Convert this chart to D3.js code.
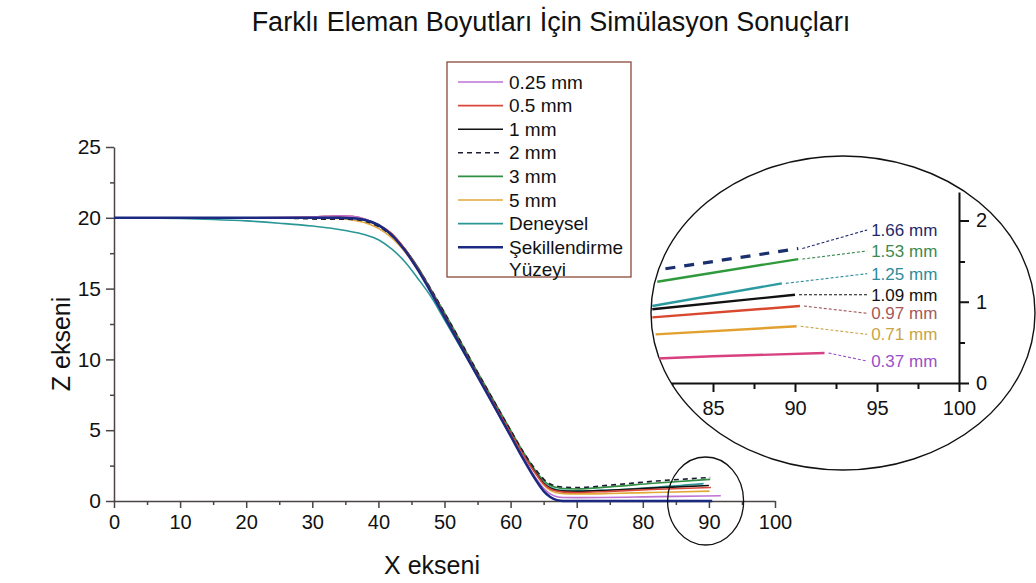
<!DOCTYPE html>
<html>
<head>
<meta charset="utf-8">
<script src="https://cdn.jsdelivr.net/npm/d3@7"></script>
<style>
  body { margin: 0; background: #fff; }
  text { font-family: "Liberation Sans", Arial, sans-serif; }
</style>
</head>
<body>
<div id="chart"></div>
<script>
// series names (legend order)
const seriesNames = ['0.25 mm', '0.5 mm', '1 mm', '2 mm', '3 mm', '5 mm', 'Deneysel', 'Şekillendirme Yüzeyi']

// [X ekseni, Z ekseni]
const s025 = [[0,20],[20,20],[30,20.05],[34,20.15],[36,20.1],[38,19.9],[40,19.5],[42,18.8],[44,17.7],[46,16.3],[48,14.7],[50,13.0],[55,8.8],[60,4.6],[62,3.0],[64,1.5],[65,0.9],[66,0.5],[67,0.3],[68,0.25],[70,0.24],[80,0.29],[85,0.33],[91.8,0.37]]
const s05 = [[0,20],[20,20],[30,20.05],[34,20.15],[36,20.1],[38,19.9],[40,19.5],[42,18.9],[44,17.8],[46,16.4],[48,14.8],[50,13.1],[55,8.9],[60,4.8],[62,3.2],[64,1.8],[65,1.2],[66,0.85],[67,0.7],[68,0.63],[70,0.6],[75,0.68],[81.3,0.81],[90.3,0.95]]
const s1 = [[0,20],[20,20],[30,20],[34,20.05],[36,20.0],[38,19.85],[40,19.45],[42,18.8],[44,17.8],[46,16.4],[48,14.8],[50,13.1],[55,8.9],[60,4.8],[62,3.2],[64,1.85],[65,1.25],[66,0.9],[67,0.75],[68,0.7],[70,0.68],[75,0.76],[81.3,0.91],[90,1.09]]
const s2 = [[0,20],[20,20],[28,19.95],[32,19.9],[35,19.9],[37,19.85],[39,19.6],[41,19.1],[43,18.3],[45,17.1],[47,15.7],[50,13.3],[55,9.1],[60,5.0],[62,3.4],[64,2.1],[65,1.55],[66,1.2],[67,1.05],[68,0.98],[70,0.95],[75,1.12],[82.1,1.41],[90.2,1.66]]
const s3 = [[0,20],[20,20],[30,20],[34,20.02],[36,19.98],[38,19.85],[40,19.45],[42,18.8],[44,17.8],[46,16.5],[48,14.9],[50,13.3],[55,9.1],[60,5.0],[62,3.4],[64,2.0],[65,1.45],[66,1.1],[67,0.95],[68,0.88],[70,0.85],[75,1.0],[81.6,1.25],[90.2,1.53]]
const s5 = [[0,20],[20,20],[30,19.98],[34,19.95],[36,19.85],[38,19.65],[40,19.25],[42,18.6],[44,17.6],[46,16.3],[48,14.8],[50,13.2],[55,9.0],[60,4.8],[62,3.2],[64,1.8],[65,1.15],[66,0.75],[67,0.58],[68,0.52],[70,0.5],[75,0.53],[81.5,0.6],[90.1,0.7]]
const deneysel = [[0,20],[5,19.98],[10,19.95],[15,19.88],[20,19.78],[25,19.62],[30,19.42],[35,19.1],[38,18.8],[40,18.45],[42,17.8],[44,16.9],[46,15.7],[48,14.4],[50,12.8],[55,8.8],[60,4.8],[62,3.2],[64,1.9],[65,1.3],[66,0.95],[67,0.8],[68,0.75],[70,0.72],[75,0.78],[81.3,0.95],[89.2,1.23]]
const yuzey = [[0,20],[20,20],[34,20],[36,19.97],[38,19.85],[40,19.5],[42,18.8],[44,17.7],[46,16.3],[48,14.7],[50,13.0],[55,8.8],[60,4.6],[62,2.9],[64,1.35],[65,0.7],[66,0.28],[67,0.06],[68,0],[90.5,0]]

const seriesData = [s025, s05, s1, s2, s3, s5, deneysel, yuzey]

// end values written in the zoom
const endLabels = ['1.66 mm', '1.53 mm', '1.25 mm', '1.09 mm', '0.97 mm', '0.71 mm', '0.37 mm']
const endLabelSeries = [3, 4, 6, 2, 1, 5, 0]
const endLabelZ = [1.89, 1.63, 1.35, 1.09, 0.86, 0.60, 0.27]

const xTicks = [0, 10, 20, 30, 40, 50, 60, 70, 80, 90, 100]
const yTicks = [0, 5, 10, 15, 20, 25]
const zoomXTicks = [85, 90, 95, 100]
const zoomYTicks = [0, 1, 2]

// styles
const mainColors = ['#bd72d4', '#d9483a', '#111111', '#1c1f33', '#2f8f43', '#e2a83a', '#2a9696', '#1b2a80']
const zoomColors = ['#d8407f', '#d9482e', '#111111', '#1a2f6e', '#2f9a3c', '#e2a02e', '#2a9aa0', '#1b2a80']
const labelColors = { 3: '#1f2a6b', 4: '#3d8a52', 6: '#2e8c9a', 2: '#111111', 1: '#a45a5a', 5: '#c8a548', 0: '#9a50c8' }

const width = 1036
const height = 583

const svg = d3.select('#chart')
              .append('svg')
              .attr('width', width)
              .attr('height', height)

// main plot scales
const x = d3.scaleLinear().domain([0, 100]).range([114, 775])
const y = d3.scaleLinear().domain([0, 25]).range([501, 147])

const axisColor = '#4a4444'

const xAxis = svg.append('g')
   .attr('transform', `translate(0, ${y(0)})`)
   .call(d3.axisBottom(x).tickValues(xTicks).tickSizeInner(7).tickSizeOuter(0).tickPadding(7))
xAxis.selectAll('text').attr('font-size', 20).attr('fill', '#111')

svg.append('g')
   .attr('transform', `translate(0, ${y(0)})`)
   .call(d3.axisBottom(x).tickValues(d3.range(5, 100, 10)).tickSize(4).tickFormat(''))
   .select('.domain').remove()

const yAxis = svg.append('g')
   .attr('transform', `translate(${x(0)}, 0)`)
   .call(d3.axisLeft(y).tickValues(yTicks).tickSizeInner(8).tickSizeOuter(0).tickPadding(5))
yAxis.selectAll('text').attr('font-size', 21).attr('fill', '#111')

svg.append('g')
   .attr('transform', `translate(${x(0)}, 0)`)
   .call(d3.axisLeft(y).tickValues(d3.range(2.5, 25, 5)).tickSize(4).tickFormat(''))
   .select('.domain').remove()

svg.selectAll('.domain, .tick line')
   .attr('stroke', axisColor)
   .attr('stroke-width', 1.5)

const line = d3.line()
               .x(d => x(d[0]))
               .y(d => y(d[1]))
               .curve(d3.curveMonotoneX)

const drawOrder = [6, 5, 4, 3, 2, 1, 0, 7]
drawOrder.forEach(i => {
  svg.append('path')
     .datum(seriesData[i])
     .attr('d', line)
     .attr('fill', 'none')
     .attr('stroke', mainColors[i])
     .attr('stroke-width', i === 7 ? 2.5 : 1.6)
     .attr('stroke-dasharray', i === 3 ? '5,4' : null)
})

// small circle around the end of the curves
svg.append('ellipse')
   .attr('cx', x(89.5))
   .attr('cy', y(0))
   .attr('rx', 38)
   .attr('ry', 44)
   .attr('fill', 'none')
   .attr('stroke', '#111')
   .attr('stroke-width', 1.3)

// title and axis titles
svg.append('text')
   .attr('x', 551).attr('y', 31)
   .attr('text-anchor', 'middle')
   .attr('font-size', 27)
   .attr('fill', '#111')
   .text('Farklı Eleman Boyutları İçin Simülasyon Sonuçları')

svg.append('text')
   .attr('x', 432).attr('y', 574)
   .attr('text-anchor', 'middle')
   .attr('font-size', 25)
   .attr('fill', '#111')
   .text('X ekseni')

svg.append('text')
   .attr('transform', 'translate(70, 344) rotate(-90)')
   .attr('text-anchor', 'middle')
   .attr('font-size', 25)
   .attr('fill', '#111')
   .text('Z ekseni')

// legend
const legend = svg.append('g')
legend.append('rect')
      .attr('x', 447).attr('y', 62)
      .attr('width', 184).attr('height', 215)
      .attr('fill', '#fff')
      .attr('stroke', '#8a4a3a')
      .attr('stroke-width', 1.3)

seriesNames.forEach((name, i) => {
  const cy = 82 + i * 23.6
  legend.append('line')
        .attr('x1', 458).attr('x2', 503)
        .attr('y1', cy).attr('y2', cy)
        .attr('stroke', mainColors[i])
        .attr('stroke-width', i === 7 ? 2.5 : 1.6)
        .attr('stroke-dasharray', i === 3 ? '5,4' : null)
  const t = legend.append('text')
        .attr('x', 509).attr('y', cy + 6.5)
        .attr('font-size', 19)
        .attr('fill', '#111')
  if (i === 7) {
    name.split(' ').forEach((w, j) => {
      t.append('tspan').attr('x', 509).attr('dy', j === 0 ? 0 : 22.5).text(w)
    })
  } else {
    t.text(name)
  }
})

// zoomed inset
const ecx = 843, ecy = 313, erx = 192, ery = 157
const ix = d3.scaleLinear().domain([80, 100]).range([631, 959])
const iy = d3.scaleLinear().domain([0, 2]).range([383, 221])

svg.append('defs')
   .append('clipPath')
   .attr('id', 'lens')
   .append('ellipse')
   .attr('cx', ecx).attr('cy', ecy)
   .attr('rx', erx).attr('ry', ery)

svg.append('ellipse')
   .attr('cx', ecx).attr('cy', ecy)
   .attr('rx', erx).attr('ry', ery)
   .attr('fill', '#fff')
   .attr('stroke', '#111')
   .attr('stroke-width', 1.4)

const inset = svg.append('g').attr('clip-path', 'url(#lens)')

const iline = d3.line()
                .x(d => ix(d[0]))
                .y(d => iy(d[1]))
                .curve(d3.curveMonotoneX)

const ixAxis = inset.append('g')
   .attr('transform', `translate(0, ${iy(0)})`)
   .call(d3.axisBottom(ix).tickValues(zoomXTicks).tickSizeInner(9).tickSizeOuter(0).tickPadding(9))
ixAxis.selectAll('text').attr('font-size', 20).attr('fill', '#111')

inset.append('g')
   .attr('transform', `translate(0, ${iy(0)})`)
   .call(d3.axisBottom(ix).tickValues([82.5, 87.5, 92.5, 97.5]).tickSize(6).tickFormat(''))
   .select('.domain').remove()

const iyAxis = inset.append('g')
   .attr('transform', `translate(${ix(100)}, 0)`)
   .call(d3.axisRight(iy.copy().domain([0, 2.35]).range([383, 192])).tickValues(zoomYTicks).tickFormat(d3.format('d')).tickSizeInner(10).tickSizeOuter(0).tickPadding(7))
iyAxis.selectAll('text').attr('font-size', 20).attr('fill', '#111')

inset.append('g')
   .attr('transform', `translate(${ix(100)}, 0)`)
   .call(d3.axisRight(iy).tickValues([0.5, 1.5]).tickSize(6).tickFormat(''))
   .select('.domain').remove()

inset.selectAll('.domain, .tick line')
   .attr('stroke', '#111')
   .attr('stroke-width', 2)

const insetOrder = [0, 5, 1, 2, 6, 4, 3, 7]
insetOrder.forEach(i => {
  inset.append('path')
     .datum(seriesData[i].filter(d => d[0] >= 78))
     .attr('d', iline)
     .attr('fill', 'none')
     .attr('stroke', zoomColors[i])
     .attr('stroke-width', i === 7 ? 3.5 : (i === 3 ? 3.2 : 2.4))
     .attr('stroke-dasharray', i === 3 ? '10,9' : null)
})

// end value labels with leader lines
const labelX = 94.4
endLabels.forEach((lab, k) => {
  const si = endLabelSeries[k]
  const last = seriesData[si][seriesData[si].length - 1]
  inset.append('line')
     .attr('x1', ix(last[0]) + 4).attr('y1', iy(last[1]))
     .attr('x2', ix(labelX)).attr('y2', iy(endLabelZ[k]))
     .attr('stroke', labelColors[si])
     .attr('stroke-width', 1.1)
     .attr('stroke-dasharray', '3,2')
  inset.append('text')
     .attr('x', ix(labelX) + 4)
     .attr('y', iy(endLabelZ[k]))
     .attr('dy', '0.35em')
     .attr('font-size', 17)
     .attr('fill', labelColors[si])
     .text(lab)
})
</script>
</body>
</html>
